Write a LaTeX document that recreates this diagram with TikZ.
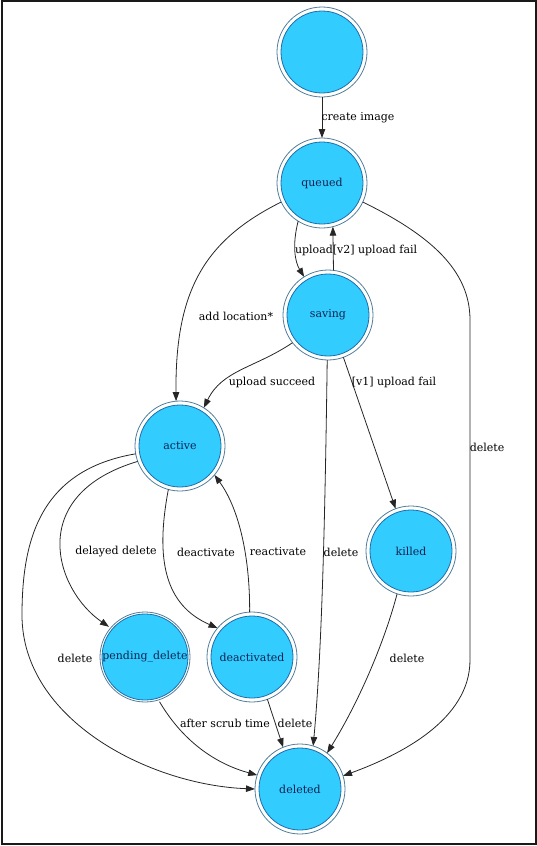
\documentclass[tikz,border=0pt]{standalone}
\usepackage{fontspec}
\setmainfont{DejaVu Serif}
\usetikzlibrary{arrows.meta}
\definecolor{nodefill}{RGB}{51,204,255}
\definecolor{innerline}{RGB}{30,110,170}
\definecolor{outerline}{RGB}{80,125,155}
\definecolor{nodetext}{RGB}{15,35,80}
\begin{document}
\begin{tikzpicture}[x=1pt,y=-1pt,
  state/.style={circle, minimum size=82pt, inner sep=0pt, outer sep=4pt,
    fill=nodefill, draw=innerline, line width=0.8pt, text=nodetext,
    font=\fontsize{11}{13}\selectfont},
  ring/.style={draw=outerline, line width=0.8pt},
  edge/.style={draw=black!85, line width=0.8pt, -{Triangle[length=9pt,width=6.5pt]}},
  elabel/.style={font=\fontsize{11}{13}\selectfont, inner sep=1pt, text=black}]
\useasboundingbox (0,0) rectangle (537,846);
\draw[line width=1.5pt, black!90] (2,1) rectangle (536,844);
% states
\node[state] (start) at (322,52) {};
\node[state] (queued) at (322,183) {queued};
\node[state] (saving) at (328,315) {saving};
\node[state] (active) at (180,446) {active};
\node[state] (killed) at (411,551) {killed};
\node[state] (pending) at (145,657) {pending\_delete};
\node[state] (deactivated) at (252,657) {deactivated};
\node[state] (deleted) at (300,789) {deleted};
\foreach \n in {start,queued,saving,active,killed,pending,deactivated,deleted}
  \draw[ring] (\n.center) circle[radius=45pt];
% edges
\draw[edge] (start) -- (queued);
\draw[edge] (queued.238) .. controls (292,245) and (295,262) .. (saving.122);
\draw[edge] (saving.83) -- (queued.-76);
\draw[edge] (queued.205) .. controls (205,240) and (175,290) .. (active.95);
\draw[edge] (saving.218) .. controls (255,368) and (222,370) .. (active.58);
\draw[edge] (saving.-91) .. controls (325,520) and (322,650) .. (deleted.73);
\draw[edge] (saving.-70) -- (killed.110);
\coordinate (qd1) at (470,320);
\coordinate (qd2) at (470,660);
\draw[edge] (queued.-25) .. controls (430,235) and (470,270) .. (qd1) -- (qd2)
  .. controls (470,720) and (400,755) .. (deleted.17);
\draw[edge] (killed.-108) .. controls (385,640) and (360,700) .. (deleted.53);
\draw[edge] (active.200) .. controls (25,495) and (55,590) .. (pending.140);
\coordinate (ad1) at (22,615);
\draw[edge] (active.190) .. controls (40,470) and (22,540) .. (ad1)
  .. controls (22,720) and (150,785) .. (deleted.180);
\draw[edge] (active.-105) .. controls (155,560) and (165,605) .. (deactivated.140);
\draw[edge] (deactivated.93) .. controls (250,560) and (240,510) .. (active.-40);
\draw[edge] (pending.-72) .. controls (185,745) and (220,765) .. (deleted.162);
\draw[edge] (deactivated.-70) -- (deleted.112);
% labels
\node[elabel] (l1) at (358,118) {create image};
\node[elabel] (l2) at (314,250) {upload};
\node[elabel] (l3) at (375,250) {[v2] upload fail};
\node[elabel] (l4) at (236,316) {add location*};
\node[elabel] (l5) at (272,382) {upload succeed};
\node[elabel] (l6) at (394,382) {[v1] upload fail};
\node[elabel] (l7) at (487,447) {delete};
\node[elabel] (l8) at (116,552) {delayed delete};
\node[elabel] (l9) at (206,552) {deactivate};
\node[elabel] (l10) at (278,552) {reactivate};
\node[elabel] (l11) at (341,552) {delete};
\node[elabel] (l12) at (407,658) {delete};
\node[elabel] (l13) at (75,658) {delete};
\node[elabel] (l14) at (225,723) {after scrub time};
\node[elabel] (l15) at (295,723) {delete};
\end{tikzpicture}
\end{document}
